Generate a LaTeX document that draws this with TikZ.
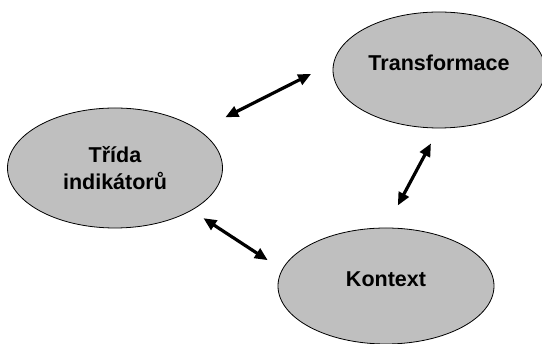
\documentclass[tikz,border=0pt]{standalone}
\usepackage{fontspec}
\setmainfont{Liberation Sans}
\usetikzlibrary{shapes.geometric,arrows.meta}

\begin{document}
\begin{tikzpicture}[x=1pt,y=-1pt,
% Ellipse style
oval/.style={ellipse,draw=black,line width=0.8pt,fill=black!25,
	inner sep=0pt,align=center,
	font=\fontsize{21.5}{27}\selectfont\bfseries},
% Raise the single line a bit
high/.style={text depth=14pt},
% Arrow style
link/.style={line width=3.2pt,draw=black,
	{Triangle[length=13pt,width=11pt]}-{Triangle[length=13pt,width=11pt]}},
]
\useasboundingbox (0,0) rectangle (542,344);
%% Draw the ellipses
\node (ind) [oval,minimum width=215pt,minimum height=120pt]
	at (115,168) {Třída\\indikátorů};
\node (tra) [oval,high,minimum width=212pt,minimum height=116pt]
	at (439,70) {Transformace};
\node (kon) [oval,high,minimum width=216pt,minimum height=116pt]
	at (386,286) {Kontext};
%% Draw the arrows
\draw[link,shorten <=29pt,shorten >=25pt] (ind.24) -- (tra.176);
\draw[link,shorten <=17pt,shorten >=25pt] (tra.270) -- (kon.90);
\draw[link,shorten <=14pt,shorten >=17pt] (ind.331) -- (kon.171.5);

\end{tikzpicture}
\end{document}
